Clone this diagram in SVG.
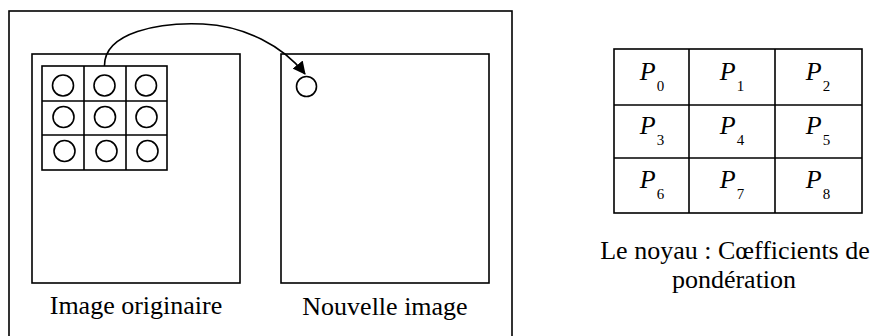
<svg xmlns="http://www.w3.org/2000/svg" width="875" height="336" viewBox="0 0 875 336">
<defs>
<style>
.box{fill:none;stroke:#000;stroke-width:1.6}
.grid{fill:none;stroke:#000;stroke-width:1.6}
.c{fill:#fff;stroke:#000;stroke-width:1.6}
.conn{fill:none;stroke:#000;stroke-width:1.6}
text{font-family:'Liberation Serif','Times New Roman','DejaVu Serif',serif;fill:#000}
</style>
<marker id="ah" viewBox="0 0 13 13" refX="12" refY="6.5" markerWidth="13" markerHeight="13" markerUnits="userSpaceOnUse" orient="auto">
<path d="M0,0 L13,6.5 L0,13 Z" fill="#000"/>
</marker>
</defs>
<rect width="875" height="336" fill="#fff"/>
<g id="frame"><rect class="box" x="9" y="11" width="503" height="326"/></g>
<g id="image-originaire">
<rect class="box" x="32" y="54" width="208" height="229"/>
<g class="grid">
<rect x="42" y="66" width="125" height="104"/>
<line x1="84" y1="66" x2="84" y2="170"/>
<line x1="126" y1="66" x2="126" y2="170"/>
<line x1="42" y1="101" x2="167" y2="101"/>
<line x1="42" y1="135" x2="167" y2="135"/>
</g>
<circle class="c" cx="63" cy="85.5" r="10.5"/>
<circle class="c" cx="104.5" cy="85.5" r="10.5"/>
<circle class="c" cx="146" cy="85.5" r="10.5"/>
<circle class="c" cx="63.5" cy="117" r="10.5"/>
<circle class="c" cx="105" cy="117" r="10.5"/>
<circle class="c" cx="146.5" cy="117" r="10.5"/>
<circle class="c" cx="64.5" cy="151" r="10.5"/>
<circle class="c" cx="106.5" cy="151" r="10.5"/>
<circle class="c" cx="147.5" cy="151" r="10.5"/>
<text font-size="26" x="136" y="314" text-anchor="middle">Image originaire</text>
</g>
<g id="nouvelle-image">
<rect class="box" x="281" y="54" width="208" height="229"/>
<circle class="c" cx="306.5" cy="86.5" r="10"/>
<text font-size="26" x="385" y="315" text-anchor="middle">Nouvelle image</text>
</g>
<g id="noyau">
<g class="grid">
<rect x="614" y="49" width="248" height="164"/>
<line x1="689" y1="49" x2="689" y2="213"/>
<line x1="775" y1="49" x2="775" y2="213"/>
<line x1="614" y1="105" x2="862" y2="105"/>
<line x1="614" y1="158" x2="862" y2="158"/>
</g>
<g font-size="26" font-style="italic" text-anchor="middle">
<text x="652" y="80">P<tspan font-style="normal" font-size="15" dx="1" dy="11">0</tspan></text>
<text x="732" y="80">P<tspan font-style="normal" font-size="15" dx="1" dy="11">1</tspan></text>
<text x="818" y="80">P<tspan font-style="normal" font-size="15" dx="1" dy="11">2</tspan></text>
<text x="652" y="134">P<tspan font-style="normal" font-size="15" dx="1" dy="11">3</tspan></text>
<text x="732" y="134">P<tspan font-style="normal" font-size="15" dx="1" dy="11">4</tspan></text>
<text x="818" y="134">P<tspan font-style="normal" font-size="15" dx="1" dy="11">5</tspan></text>
<text x="652" y="188">P<tspan font-style="normal" font-size="15" dx="1" dy="11">6</tspan></text>
<text x="732" y="188">P<tspan font-style="normal" font-size="15" dx="1" dy="11">7</tspan></text>
<text x="818" y="188">P<tspan font-style="normal" font-size="15" dx="1" dy="11">8</tspan></text>
</g>
<text font-size="26" x="735" y="259" text-anchor="middle">Le noyau : Cœfficients de</text>
<text font-size="26" x="734" y="288" text-anchor="middle">pondération</text>
</g>
<g id="connectors">
<path class="conn" d="M104.5,66 C104,32 160,22 203,24 C245,26 283,46 305,74" marker-end="url(#ah)"/>
</g>
</svg>
